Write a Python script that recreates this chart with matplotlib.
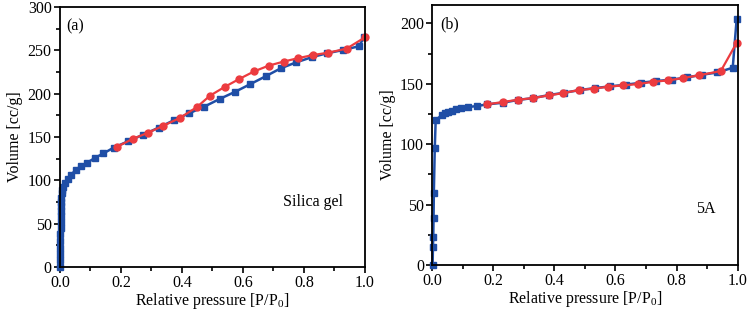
import numpy as np
import matplotlib
matplotlib.use("Agg")
import matplotlib.pyplot as plt
from matplotlib.ticker import MultipleLocator

plt.rcParams['font.family'] = ['Liberation Serif', 'DejaVu Serif']
plt.rcParams['mathtext.fontset'] = 'custom'
plt.rcParams['mathtext.rm'] = 'Liberation Serif'
plt.rcParams['mathtext.it'] = 'Liberation Serif:italic'

# (a) silica gel: adsorption (blue) and desorption (red)
silica_ads_x = [0.0005, 0.0007, 0.0009, 0.001, 0.0012, 0.0015, 0.0018, 0.002, 0.0025, 0.003,
                0.0035, 0.004, 0.0048, 0.0055, 0.008, 0.011, 0.016, 0.025,
                0.036, 0.051, 0.069, 0.090, 0.115, 0.142, 0.176, 0.223, 0.273, 0.323,
                0.373, 0.423, 0.473, 0.523, 0.575, 0.624, 0.674, 0.724, 0.775, 0.825,
                0.875, 0.929, 0.980, 0.997]
silica_ads_y = [0, 8, 15, 22, 30, 38, 45, 52, 59, 65,
                70, 75, 80, 85, 89, 92.7, 96.5, 101,
                106, 112, 116.5, 120.5, 126, 131, 137.7, 145, 152.7, 160.7,
                169.3, 177.3, 185, 193.8, 202.3, 211, 220, 229.3, 236.2, 242,
                246.6, 250.4, 254.7, 265]
silica_des_x = [0.187, 0.238, 0.289, 0.339, 0.393, 0.448, 0.492, 0.541, 0.588, 0.637,
                0.684, 0.733, 0.781, 0.830, 0.880, 0.940, 1.0]
silica_des_y = [138.8, 147.7, 155, 163, 172, 184.3, 197.7, 208, 217, 225.8,
                232.3, 237, 241, 244.6, 247.3, 252, 265]

# (b) 5A zeolite
z5a_ads_x = [0.001, 0.002, 0.003, 0.004, 0.005, 0.008, 0.011, 0.031, 0.041, 0.052,
             0.063, 0.078, 0.093, 0.118, 0.147, 0.180, 0.230, 0.280, 0.331, 0.382,
             0.432, 0.483, 0.534, 0.583, 0.633, 0.683, 0.734, 0.784, 0.834, 0.884,
             0.934, 0.984, 0.997]
z5a_ads_y = [0, 15, 23, 38.6, 60, 96.5, 120, 124, 125.5, 126.6,
             127.7, 128.8, 130, 130.8, 131.6, 133, 134.3, 136.6, 138.2, 140.7,
             142.6, 144.8, 146.5, 147.9, 149.2, 150.9, 152.3, 153.4, 155.3, 157.5,
             159.4, 163.3, 204]
z5a_des_x = [0.180, 0.230, 0.281, 0.331, 0.381, 0.429, 0.479, 0.528, 0.576, 0.626,
             0.675, 0.724, 0.773, 0.822, 0.873, 0.945, 0.997]
z5a_des_y = [133, 134.9, 136.8, 138.2, 140.4, 142.3, 144.8, 146, 147.6, 148.7,
             149.8, 151.7, 152.8, 154.8, 157, 160.6, 184]

blue = '#1f4ea6'
red = '#ec3b3f'

fig = plt.figure(figsize=(7.49, 3.14), dpi=100)
ax1 = fig.add_axes([0.0801, 0.1497, 0.4072, 0.828])
ax2 = fig.add_axes([0.5772, 0.156, 0.4076, 0.828])

def style(ax, ymax, ystep):
    ax.set_xlim(0, 1.0)
    ax.set_ylim(0, ymax)
    ax.xaxis.set_major_locator(MultipleLocator(0.2))
    ax.xaxis.set_minor_locator(MultipleLocator(0.1))
    ax.yaxis.set_major_locator(MultipleLocator(ystep))
    ax.yaxis.set_minor_locator(MultipleLocator(ystep / 2))
    ax.tick_params(which='both', direction='out', labelsize=11.5, width=1.2)
    ax.tick_params(which='major', length=4, pad=2)
    ax.tick_params(which='minor', length=3)
    for s in ax.spines.values():
        s.set_linewidth(1.3)
    ax.set_xlabel('Relative pressure [P/P$_0$]', fontsize=11.5, labelpad=0)
    ax.set_ylabel('Volume [cc/g]', fontsize=11.5, labelpad=3)
    ax.xaxis.set_major_formatter(plt.FormatStrFormatter('%.1f'))

ax1.plot(silica_ads_x, silica_ads_y, '-s', color=blue, ms=5, lw=1.8, clip_on=False)
ax1.plot(silica_des_x, silica_des_y, '-o', color=red, ms=5, lw=1.6, clip_on=False)
style(ax1, 300, 50)
ax1.text(0.02, 0.955, '(a)', transform=ax1.transAxes, fontsize=11.5, va='top')
ax1.text(0.73, 0.235, 'Silica gel', transform=ax1.transAxes, fontsize=11.5)

ax2.plot(z5a_ads_x, z5a_ads_y, '-s', color=blue, ms=5, lw=1.8, clip_on=False)
ax2.plot(z5a_des_x, z5a_des_y, '-o', color=red, ms=5, lw=1.6, clip_on=False)
style(ax2, 215.2, 50)
ax2.text(0.025, 0.955, '(b)', transform=ax2.transAxes, fontsize=11.5, va='top')
ax2.text(0.865, 0.2, '5A', transform=ax2.transAxes, fontsize=11.5)

fig.savefig('out.png', dpi=100)
